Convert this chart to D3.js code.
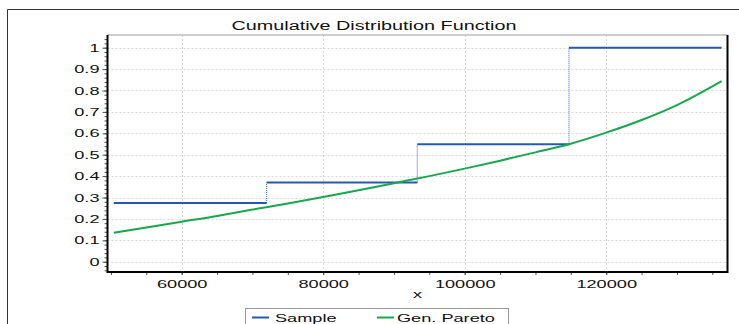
<!DOCTYPE html>
<html>
<head>
<meta charset="utf-8">
<script src="https://cdn.jsdelivr.net/npm/d3@7"></script>
<style>
  html, body { margin: 0; padding: 0; background: #fff; }
  svg { display: block; font-family: "Liberation Sans", Arial, sans-serif; }
</style>
</head>
<body>
<svg id="chart" width="739" height="324"></svg>
<script>
// Empirical CDF of the sample: step edges and the level reached on each step
const sampleX = [50400, 72000, 93300, 114740, 136320];
const sampleF = [0.274, 0.370, 0.549, 1.0];

// Fitted generalized Pareto CDF, read at these x positions
const paretoX = [50400, 55000, 60000, 65000, 69650, 75000, 80000, 85000, 90000, 95000,
                 100000, 105000, 110000, 114740, 120000, 125000, 130000, 136320];
const paretoF = [0.135, 0.160, 0.187, 0.214, 0.242, 0.272, 0.302, 0.334, 0.367, 0.400,
                 0.435, 0.472, 0.511, 0.549, 0.603, 0.662, 0.732, 0.844];

const xMajorTicks = [60000, 80000, 100000, 120000];
const xMinorTicks = d3.range(50000, 136000, 5000);
const yMajorTicks = d3.range(0, 11).map(i => i / 10);
const yMinorTicks = d3.range(-2, 53).map(i => i / 50);

const title = "Cumulative Distribution Function";
const xLabel = "x";
const seriesNames = ["Sample", "Gen. Pareto"];
const colors = { sample: "#2458b8", sampleStep: "#4d7fd6", pareto: "#17a84b" };

const svg = d3.select("#chart");
const plot = { left: 107.5, right: 727.5, top: 35, bottom: 272 };

const x = d3.scaleLinear().domain([49512, 137145]).range([plot.left, plot.right]);
const y = d3.scaleLinear().domain([-0.048, 1.0593]).range([plot.bottom, plot.top]);

// widen glyphs horizontally
const STRETCH = 1.65;
function stretch(sel) {
  sel.each(function () {
    const w = this.getComputedTextLength();
    d3.select(this).attr("textLength", w * STRETCH).attr("lengthAdjust", "spacingAndGlyphs");
  });
}

// outer frame
svg.append("path")
  .attr("d", "M7.5,330 V9.5 H745")
  .attr("fill", "none").attr("stroke", "#333").attr("stroke-width", 1);

// title
svg.append("text")
  .attr("x", 374).attr("y", 30)
  .attr("text-anchor", "middle").attr("font-size", 12).attr("fill", "#111")
  .text(title).call(stretch);

// grid
const grid = svg.append("g").attr("stroke", "#d8d8d8").attr("stroke-dasharray", "2,2").attr("stroke-width", 1);
grid.selectAll(".gx").data(xMajorTicks).join("line")
  .attr("x1", d => Math.round(x(d)) + 0.5).attr("x2", d => Math.round(x(d)) + 0.5)
  .attr("y1", plot.top).attr("y2", plot.bottom);
grid.selectAll(".gy").data(yMajorTicks).join("line")
  .attr("x1", plot.left).attr("x2", plot.right)
  .attr("y1", d => Math.round(y(d)) + 0.5).attr("y2", d => Math.round(y(d)) + 0.5);

// axes using d3 axis generators
const yAxisMinor = d3.axisLeft(y).tickValues(yMinorTicks).tickSize(3).tickFormat("");
const yAxisMajor = d3.axisLeft(y).tickValues(yMajorTicks).tickSize(5).tickPadding(3)
  .tickFormat(d => d3.format("")(+d.toFixed(1)));
const xAxisMinor = d3.axisBottom(x).tickValues(xMinorTicks).tickSize(3).tickFormat("");
const xAxisMajor = d3.axisBottom(x).tickValues(xMajorTicks).tickSize(3).tickPadding(3)
  .tickFormat(d3.format("d"));

function styleAxis(g) {
  g.select(".domain").remove();
  g.selectAll(".tick line").attr("stroke", "#555");
  g.selectAll(".tick text").attr("fill", "#111").attr("font-size", 11)
    .attr("font-family", "Liberation Sans, Arial, sans-serif");
}

svg.append("g").attr("transform", `translate(${plot.left},0)`).call(yAxisMinor).call(styleAxis);
const gy = svg.append("g").attr("transform", `translate(${plot.left},0)`).call(yAxisMajor).call(styleAxis);
gy.selectAll(".tick text").call(stretch);

svg.append("g").attr("transform", `translate(0,${plot.bottom})`).call(xAxisMinor).call(styleAxis);
const gx = svg.append("g").attr("transform", `translate(0,${plot.bottom})`).call(xAxisMajor).call(styleAxis);
gx.selectAll(".tick text").attr("dy", "0.9em").call(stretch);

// plot frame: light top, dark left/bottom/right
svg.append("line").attr("x1", plot.left).attr("x2", plot.right).attr("y1", plot.top).attr("y2", plot.top)
  .attr("stroke", "#999").attr("stroke-width", 1.2);
svg.append("path")
  .attr("d", `M${plot.left},${plot.top} V${plot.bottom} H${plot.right} V${plot.top}`)
  .attr("fill", "none").attr("stroke", "#000").attr("stroke-width", 2);

// x axis label
svg.append("text")
  .attr("x", (plot.left + plot.right) / 2).attr("y", 297.5)
  .attr("text-anchor", "middle").attr("font-size", 11).attr("fill", "#111")
  .text(xLabel).call(stretch);

// sample ECDF: solid horizontal runs, dotted risers
const runs = sampleF.map((f, i) => ({ x0: sampleX[i], x1: sampleX[i + 1], f }));
const risers = sampleF.slice(1).map((f, i) => ({ x: sampleX[i + 1], f0: sampleF[i], f1: f }));

svg.append("g").selectAll("line").data(risers).join("line")
  .attr("x1", d => x(d.x)).attr("x2", d => x(d.x))
  .attr("y1", d => y(d.f0)).attr("y2", d => y(d.f1))
  .attr("stroke", colors.sampleStep).attr("stroke-width", 1.2).attr("stroke-dasharray", "1,1");

svg.append("g").selectAll("line").data(runs).join("line")
  .attr("x1", d => x(d.x0)).attr("x2", d => x(d.x1))
  .attr("y1", d => y(d.f)).attr("y2", d => y(d.f))
  .attr("stroke", colors.sample).attr("stroke-width", 2);

// fitted Pareto curve
const paretoPts = paretoX.map((v, i) => [v, paretoF[i]]);
svg.append("path")
  .datum(paretoPts)
  .attr("fill", "none").attr("stroke", colors.pareto).attr("stroke-width", 2)
  .attr("d", d3.line().x(d => x(d[0])).y(d => y(d[1])).curve(d3.curveMonotoneX));

// legend
const legend = svg.append("g");
legend.append("rect")
  .attr("x", 245.5).attr("y", 308.5).attr("width", 263).attr("height", 30)
  .attr("fill", "#fff").attr("stroke", "#999").attr("stroke-width", 1);
const legendItems = [
  { name: seriesNames[0], color: colors.sample, lx: 252, tx: 275 },
  { name: seriesNames[1], color: colors.pareto, lx: 377, tx: 397 }
];
legendItems.forEach(it => {
  legend.append("line")
    .attr("x1", it.lx).attr("x2", it.lx + 17).attr("y1", 317.5).attr("y2", 317.5)
    .attr("stroke", it.color).attr("stroke-width", 2);
  legend.append("text")
    .attr("x", it.tx).attr("y", 322.3).attr("font-size", 11).attr("fill", "#111")
    .text(it.name).call(stretch);
});
</script>
</body>
</html>
